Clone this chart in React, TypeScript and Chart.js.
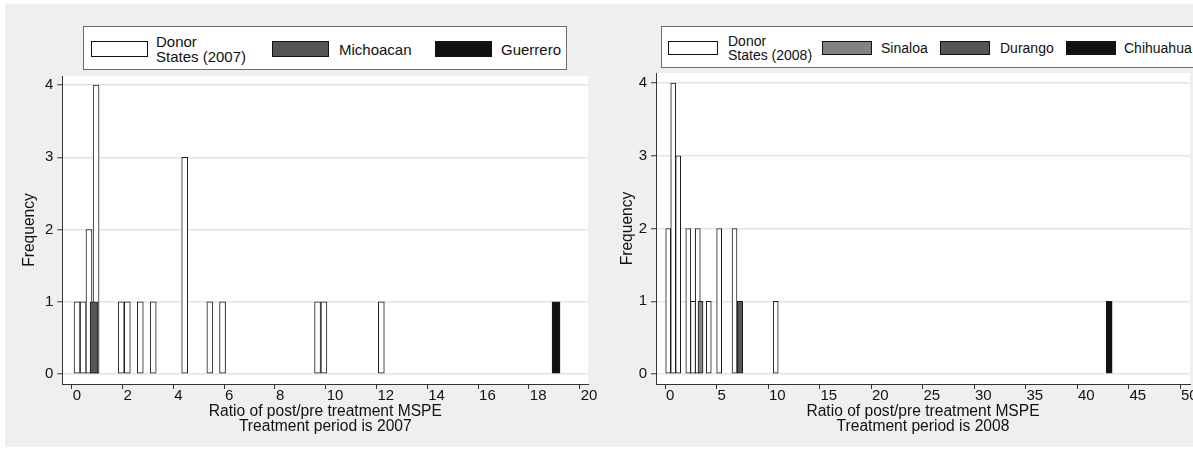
import React, { useEffect, useRef } from "react";
import { Chart, registerables } from "chart.js";

Chart.register(...registerables);
Chart.defaults.font.family = "'Liberation Sans', Arial, sans-serif";
Chart.defaults.color = "#111";

// ---------- Data: treatment period 2007 ----------
const donor2007X = [0.21, 0.45, 0.68, 0.96, 1.95, 2.19, 2.7, 3.21, 4.45, 5.44, 5.94, 9.68, 9.93, 12.19];
const donor2007Y = [1, 1, 2, 4, 1, 1, 1, 1, 3, 1, 1, 1, 1, 1];
const michoacanX = [0.88];
const michoacanY = [1];
const guerreroX = [19.07];
const guerreroY = [1];
const xTicks2007 = [0, 2, 4, 6, 8, 10, 12, 14, 16, 18, 20];

// ---------- Data: treatment period 2008 ----------
const donor2008X = [0.31, 0.8, 1.28, 2.26, 2.72, 3.18, 4.25, 5.26, 6.75, 10.75];
const donor2008Y = [2, 4, 3, 2, 1, 2, 1, 2, 2, 1];
const sinaloaX = [3.45];
const sinaloaY = [1];
const durangoX = [7.28];
const durangoY = [1];
const chihuahuaX = [43.12];
const chihuahuaY = [1];
const xTicks2008 = [0, 5, 10, 15, 20, 25, 30, 35, 40, 45, 50];

const yTicks = [0, 1, 2, 3, 4];

const FONT = "'Liberation Sans', Arial, sans-serif";

const pts = (xs: number[], ys: number[]) => xs.map((x, i) => ({ x, y: ys[i] }));

const plotBg = {
  id: "plotBg",
  beforeDraw(chart: any) {
    const { ctx, chartArea: a } = chart;
    ctx.save();
    ctx.fillStyle = "#ffffff";
    ctx.fillRect(a.left, a.top, a.right - a.left, a.bottom - a.top);
    ctx.restore();
  },
};

function bar(label: string, xs: number[], ys: number[], fill: string, thickness: number, order: number) {
  return {
    label,
    data: pts(xs, ys),
    backgroundColor: fill,
    borderColor: "#1a1a1a",
    borderWidth: 1,
    borderSkipped: false,
    barThickness: thickness,
    stack: "all",
    order,
  };
}

function makeConfig(p: any) {
  return {
    type: "bar",
    data: { datasets: p.datasets },
    plugins: [plotBg],
    options: {
      animation: false,
      responsive: false,
      events: [],
      layout: { padding: { top: p.padTop, right: p.padRight, bottom: 0, left: 0 } },
      plugins: { legend: { display: false }, tooltip: { enabled: false } },
      scales: {
        x: {
          type: "linear",
          min: p.xMin,
          max: p.xMax,
          bounds: "data",
          offset: false,
          stacked: true,
          afterBuildTicks: (s: any) => {
            s.ticks = p.xTicks.map((v: number) => ({ value: v }));
          },
          afterFit: (s: any) => {
            s.height = 63;
            s.paddingLeft = 0;
            s.paddingRight = 0;
          },
          ticks: { font: { size: 15 }, color: "#111", align: "start", labelOffset: 1, padding: -2, autoSkip: false, maxRotation: 0, minRotation: 0 },
          grid: { display: true, offset: false, drawOnChartArea: false, drawTicks: true, tickLength: 5, tickColor: "#333", tickWidth: 1 },
          border: { display: true, color: "#333", width: 1 },
          title: {
            display: true,
            text: p.xTitle,
            color: "#111",
            font: { size: 15.6, lineHeight: 0.97 },
            padding: { top: 0, bottom: 12.5 },
          },
        },
        y: {
          type: "linear",
          min: p.yMin,
          max: p.yMax,
          bounds: "data",
          offset: false,
          stacked: false,
          afterBuildTicks: (s: any) => {
            s.ticks = yTicks.map((v) => ({ value: v }));
          },
          afterFit: (s: any) => {
            s.width = p.yWidth;
            s.paddingTop = 0;
            s.paddingBottom = 0;
          },
          ticks: { font: { size: 15 }, color: "#111", padding: 4, autoSkip: false },
          grid: { color: "#e4e4e4", lineWidth: 1.5, offset: false, drawTicks: true, tickLength: 5, tickColor: "#333", tickWidth: 1 },
          border: { display: true, color: "#333", width: 1 },
          title: { display: true, text: "Frequency", color: "#111", font: { size: 15.6 }, padding: { top: p.yTitlePad, bottom: 0 } },
        },
      },
    },
  };
}

function ChartCanvas({ config, left, top, width, height }: any) {
  const ref = useRef<HTMLCanvasElement>(null);
  useEffect(() => {
    if (!ref.current) return;
    const chart = new Chart(ref.current, config);
    return () => chart.destroy();
  }, []);
  return (
    <canvas
      ref={ref}
      width={width}
      height={height}
      style={{ position: "absolute", left, top, width, height }}
    />
  );
}

function Legend({ box, items, fontSize, swW, swH, cy }: any) {
  return (
    <div
      style={{
        position: "absolute",
        left: box.left,
        top: box.top,
        width: box.width,
        height: box.height,
        boxSizing: "border-box",
        border: "1px solid #6e6e6e",
        background: "#fff",
      }}
    >
      {items.map((it: any, i: number) => (
        <React.Fragment key={i}>
          <div
            style={{
              position: "absolute",
              left: it.sx - box.left,
              top: cy - box.top - swH / 2,
              width: swW,
              height: swH,
              boxSizing: "border-box",
              border: "1px solid #111",
              background: it.fill,
            }}
          />
          <div
            style={{
              position: "absolute",
              left: it.tx - box.left,
              top: cy - box.top - (it.lines.length * fontSize) / 2,
              fontFamily: FONT,
              fontSize,
              lineHeight: `${fontSize}px`,
              color: "#111",
              whiteSpace: "nowrap",
            }}
          >
            {it.lines.map((l: string, j: number) => (
              <div key={j}>{l}</div>
            ))}
          </div>
        </React.Fragment>
      ))}
    </div>
  );
}

export default function App() {
  const leftConfig = makeConfig({
    datasets: [
      bar("Michoacan", michoacanX, michoacanY, "#555555", 8, 1),
      bar("Guerrero", guerreroX, guerreroY, "#111111", 8, 1),
      bar("Donor States (2007)", donor2007X, donor2007Y, "#ffffff", 6, 2),
    ],
    padTop: 72,
    padRight: 9.7,
    xMin: -0.37,
    xMax: 20.34,
    yMin: -0.138,
    yMax: 4.125,
    yWidth: 57.3,
    yTitlePad: 15,
    xTicks: xTicks2007,
    xTitle: ["Ratio of post/pre treatment MSPE", "Treatment period is 2007"],
  });
  const rightConfig = makeConfig({
    datasets: [
      bar("Sinaloa", sinaloaX, sinaloaY, "#828282", 5, 1),
      bar("Durango", durangoX, durangoY, "#555555", 5.5, 1),
      bar("Chihuahua", chihuahuaX, chihuahuaY, "#111111", 6, 1),
      bar("Donor States (2008)", donor2008X, donor2008Y, "#ffffff", 5, 2),
    ],
    padTop: 69,
    padRight: 3,
    xMin: -0.874,
    xMax: 50.97,
    yMin: -0.137,
    yMax: 4.137,
    yWidth: 58,
    yTitlePad: 20.3,
    xTicks: xTicks2008,
    xTitle: ["Ratio of post/pre treatment MSPE", "Treatment period is 2008"],
  });

  return (
    <div
      style={{
        position: "absolute",
        left: 0,
        top: 0,
        width: 1193,
        height: 451,
        background: "#ffffff",
        overflow: "hidden",
      }}
    >
      <div style={{ position: "absolute", left: 5, top: 4, width: 1188, height: 443, background: "#efefef" }} />
      <ChartCanvas config={leftConfig} left={5} top={4} width={593} height={443} />
      <ChartCanvas config={rightConfig} left={598} top={4} width={595} height={443} />
      <Legend
        box={{ left: 83, top: 26, width: 484, height: 44 }}
        fontSize={15}
        swW={57}
        swH={16}
        cy={48}
        items={[
          { sx: 90, tx: 155, fill: "#ffffff", lines: ["Donor", "States (2007)"] },
          { sx: 271, tx: 338, fill: "#555555", lines: ["Michoacan"] },
          { sx: 434, tx: 500, fill: "#111111", lines: ["Guerrero"] },
        ]}
      />
      <Legend
        box={{ left: 661, top: 26, width: 560, height: 42 }}
        fontSize={14}
        swW={50}
        swH={14}
        cy={47}
        items={[
          { sx: 667, tx: 727, fill: "#ffffff", lines: ["Donor", "States (2008)"] },
          { sx: 821, tx: 880, fill: "#828282", lines: ["Sinaloa"] },
          { sx: 939, tx: 999, fill: "#555555", lines: ["Durango"] },
          { sx: 1065, tx: 1123, fill: "#111111", lines: ["Chihuahua"] },
        ]}
      />
    </div>
  );
}
